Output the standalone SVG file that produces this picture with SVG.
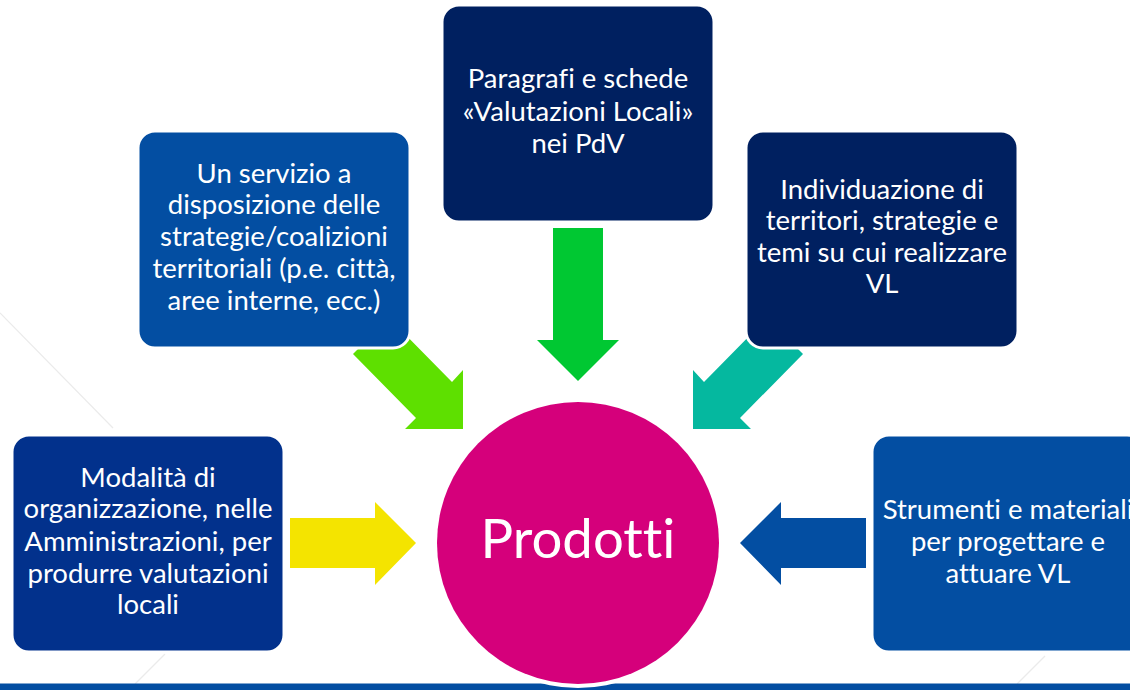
<svg xmlns="http://www.w3.org/2000/svg" width="1130" height="690" viewBox="0 0 1130 690">
<style>
.box{stroke:#ffffff;stroke-width:3}
.t{font-family:Lato,"Open Sans","Liberation Sans",sans-serif;font-size:27.5px;fill:#ffffff;text-anchor:middle;font-variant-ligatures:none}
.bg{stroke:#ebebeb;stroke-width:1.2;fill:none}
</style>
<rect width="1130" height="690" fill="#ffffff"/>
<g id="background">
<line class="bg" x1="0" y1="313" x2="113" y2="428"/>
<line class="bg" x1="135" y1="684" x2="165" y2="654"/>
<line class="bg" x1="1017" y1="684" x2="1045" y2="656"/>
<rect x="0" y="683.5" width="1130" height="6.5" fill="#034ea2"/>
</g>
<g id="connectors">
<polygon fill="#00c832" points="553,228 603,228 603,340 619,340 578,381 537,340 553,340"/>
<polygon fill="#f4e400" points="290,518 375,518 375,502 416,543 375,585 375,568 290,568"/>
<polygon fill="#034ea2" points="866,518 781,518 781,502 740,543 781,585 781,568 866,568"/>
<polygon fill="#5ee000" points="353,354 416,418 405,429 463,429 463,370 452,382 389,318"/>
<polygon fill="#05b89f" points="803,354 740,418 751,429 693,429 693,370 704,382 767,318"/>
</g>
<g id="n-top">
<rect class="box" x="442" y="5" width="272" height="217" rx="17" fill="#002060"/>
<text class="t" x="578" y="88">Paragrafi e schede</text>
<text class="t" x="578" y="121">«Valutazioni Locali»</text>
<text class="t" x="578" y="153">nei PdV</text>
</g>
<g id="n-upper-left">
<rect class="box" x="138" y="131" width="272" height="217" rx="17" fill="#034ea2"/>
<text class="t" x="274" y="183">Un servizio a</text>
<text class="t" x="274" y="214">disposizione delle</text>
<text class="t" x="274" y="246">strategie/coalizioni</text>
<text class="t" x="274" y="278">territoriali (p.e. città,</text>
<text class="t" x="274" y="310">aree interne, ecc.)</text>
</g>
<g id="n-upper-right">
<rect class="box" x="746" y="131" width="272" height="217" rx="17" fill="#002060"/>
<text class="t" x="882" y="199">Individuazione di</text>
<text class="t" x="882" y="230">territori, strategie e</text>
<text class="t" x="882" y="262">temi su cui realizzare</text>
<text class="t" x="882" y="293">VL</text>
</g>
<g id="n-lower-left">
<rect class="box" x="12" y="435" width="272" height="217" rx="17" fill="#02318c"/>
<text class="t" x="148" y="487">Modalità di</text>
<text class="t" x="148" y="518">organizzazione, nelle</text>
<text class="t" x="148" y="551">Amministrazioni, per</text>
<text class="t" x="148" y="583">produrre valutazioni</text>
<text class="t" x="148" y="614">locali</text>
</g>
<g id="n-lower-right">
<rect class="box" x="872" y="435" width="272" height="217" rx="17" fill="#034ea2"/>
<text class="t" x="1008" y="519">Strumenti e materiali</text>
<text class="t" x="1008" y="551">per progettare e</text>
<text class="t" x="1008" y="583">attuare VL</text>
</g>
<g id="n-center">
<circle cx="578" cy="543" r="145" fill="#ffffff"/>
<circle cx="578" cy="543" r="141" fill="#d5007b"/>
<text x="578" y="558" font-family="Lato,'Open Sans','Liberation Sans',sans-serif" font-size="54.5" fill="#ffffff" text-anchor="middle" style="font-variant-ligatures:none">Prodotti</text>
</g>
</svg>
